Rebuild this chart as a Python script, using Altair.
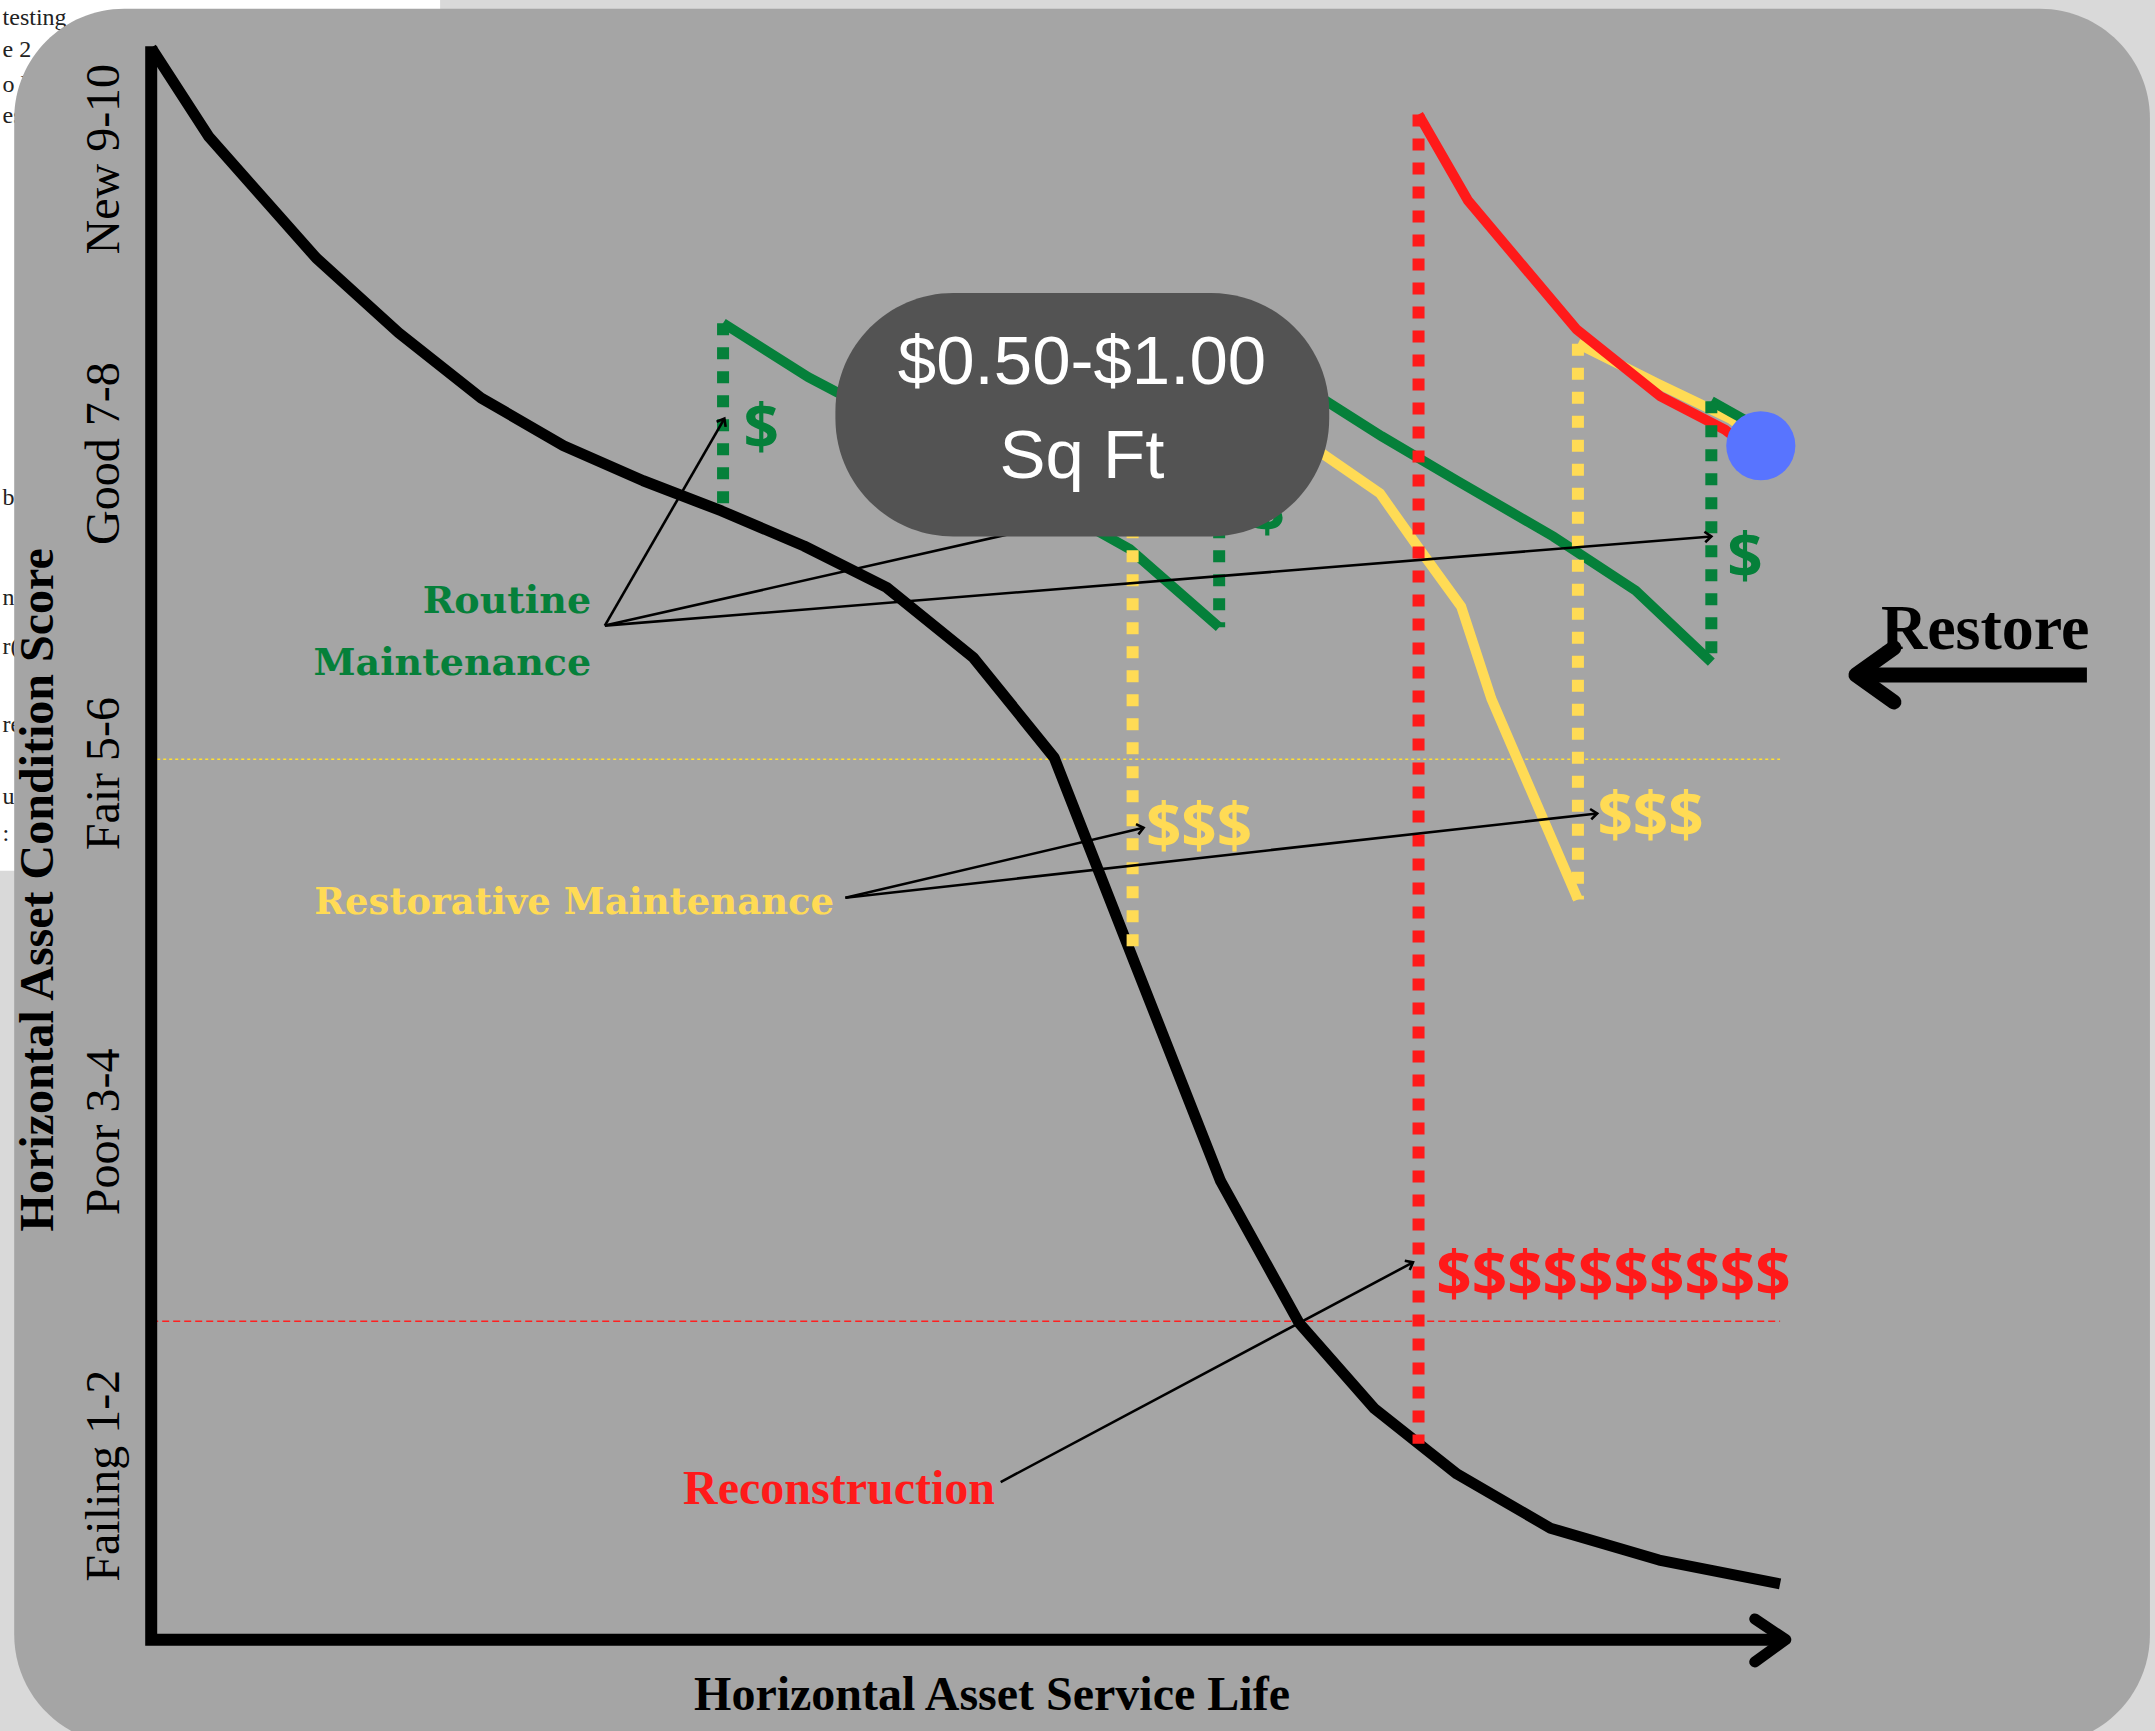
import math
import altair as alt
import pandas as pd

# ---------------------------------------------------------------
# Data  (x = share of horizontal asset service life, y = condition score)
# ---------------------------------------------------------------
curve_life = [0.0, 3.54, 10.10, 15.15, 20.20, 25.25, 30.13, 34.93, 39.98, 45.03,
              50.34, 55.30, 60.19, 65.49, 70.29, 74.92, 79.97, 85.69, 92.34, 99.75]
curve_score = [10.0, 9.44, 8.68, 8.21, 7.80, 7.50, 7.28, 7.09, 6.87, 6.61,
               6.17, 5.54, 4.26, 2.88, 1.99, 1.45, 1.04, 0.70, 0.50, 0.35]

# routine maintenance (green): renewed segments
routine_seg = [1, 1, 1, 1, 1, 2, 2, 2, 2, 2, 2, 2]
routine_life = [35.02, 40.24, 54.71, 59.93, 65.40, 65.40, 71.97, 75.34, 79.97, 85.86, 90.91, 95.54]
routine_score = [8.27, 7.93, 7.15, 6.85, 6.36, 8.20, 7.78, 7.56, 7.28, 6.93, 6.59, 6.14]
routine_last_life = [95.54, 97.64]
routine_last_score = [7.78, 7.66]
routine_jump_life = [35.02, 65.40, 95.54]
routine_jump_from = [7.09, 6.36, 6.14]
routine_jump_to = [8.27, 8.20, 7.78]

# restorative maintenance (yellow)
restore_seg = [1, 1, 1, 1, 1, 1, 1, 2, 2, 2, 2]
restore_life = [60.10, 71.72, 75.25, 77.53, 80.22, 82.07, 87.37, 87.37, 92.26, 96.72, 97.64]
restore_score = [8.05, 7.45, 7.20, 6.87, 6.49, 5.91, 4.65, 8.14, 7.89, 7.67, 7.60]
restore_jump_life = [60.10, 87.37]
restore_jump_from = [4.30, 4.65]
restore_jump_to = [8.05, 8.14]

# reconstruction (red)
recon_life = [77.61, 80.64, 87.29, 92.42, 96.38, 97.64]
recon_score = [9.58, 9.04, 8.23, 7.81, 7.60, 7.50]
recon_jump_life = [77.61]
recon_jump_from = [1.23]
recon_jump_to = [9.58]

end_life = [98.57]
end_score = [7.50]

fair_threshold = [5.53]
failing_threshold = [2.00]
threshold_span = [0.0, 99.75]

# axes drawn as paths
axis_life = [0.0, 0.0, 100.0]
axis_score = [10.01, 0.0, 0.0]
axis_head_life = [98.2, 100.1, 98.2]
axis_head_score = [0.13, 0.0, -0.14]

# "Restore" arrow
restore_arrow_life = [104.40, 118.54]
restore_arrow_score = [6.06, 6.06]
restore_head_life = [106.72, 104.40, 106.72]
restore_head_score = [6.23, 6.06, 5.89]

# annotation arrows
ann_from_life = [27.78, 27.78, 27.78, 42.51, 42.51, 52.02]
ann_from_score = [6.37, 6.37, 6.37, 4.66, 4.66, 0.99]
ann_to_life = [35.10, 64.81, 95.54, 60.77, 88.55, 77.27]
ann_to_score = [7.67, 7.23, 6.93, 5.10, 5.19, 2.37]

# texts
tick_labels = ["New 9-10", "Good 7-8", "Fair 5-6", "Poor 3-4", "Failing 1-2"]
tick_score = [9.30, 7.45, 5.44, 3.19, 1.03]
y_title = ["Horizontal Asset Condition Score"]
x_title = ["Horizontal Asset Service Life"]
routine_text = ["Routine", "Maintenance"]
routine_text_score = [6.45, 6.06]
restorative_text = ["Restorative Maintenance"]
recon_text = ["Reconstruction"]
restore_word = ["Restore"]

green_money = ["$", "$", "$"]
green_money_life = [37.35, 68.34, 97.60]
green_money_score = [7.48, 6.96, 6.67]
yellow_money = ["$$$", "$$$"]
yellow_money_life = [64.17, 91.82]
yellow_money_score = [4.97, 5.04]
red_money = ["$$$$$$$$$$"]
red_money_life = [89.55]
red_money_score = [2.16]

price_text = ["$0.50-$1.00", "Sq Ft"]
price_score = [7.89, 7.30]
bubble_life = [41.90, 72.14]
bubble_score = [6.93, 8.46]

panel_life = [-8.39, 122.4]
panel_score = [-0.659, 10.245]
paper_life = [-10.0, 17.69]
paper_score = [4.83, 11.0]
paper_words = ["testing", "e 2", "o l", "es", "b", "nt", "r(", "re", "u", ":"]
paper_score_pos = [10.14, 9.94, 9.72, 9.53, 7.13, 6.50, 6.19, 5.70, 5.25, 5.02]

# ---------------------------------------------------------------
W, H = 2155, 1731
X_DOM = [-9.26, 122.71]
Y_DOM = [-0.574, 10.30]
PX_X = W / (X_DOM[1] - X_DOM[0])
PX_Y = H / (Y_DOM[1] - Y_DOM[0])

xs = alt.Scale(domain=X_DOM, nice=False, zero=False)
ys = alt.Scale(domain=Y_DOM, nice=False, zero=False)

GREEN = "#05803a"
YELLOW = "#ffdb55"
RED = "#ff1a1a"
BLUE = "#5874ff"
SERIF = "Liberation Serif"
SLAB = "DejaVu Serif"


def X(f="life"):
    return alt.X(f"{f}:Q", scale=xs, axis=None)


def Y(f="score"):
    return alt.Y(f"{f}:Q", scale=ys, axis=None)


def path_layer(life, score, color, width, seg=None, cap="butt", join="miter"):
    df = pd.DataFrame({"life": life, "score": score, "i": list(range(len(life))),
                       "seg": seg if seg is not None else [0] * len(life)})
    return alt.Chart(df).mark_line(color=color, strokeWidth=width, strokeCap=cap,
                                   strokeJoin=join).encode(
        x=X(), y=Y(), order=alt.Order("i:Q"), detail="seg:N")


def drop_layer(life, lo, hi, color):
    df = pd.DataFrame({"life": life, "lo": lo, "hi": hi})
    return alt.Chart(df).mark_rule(color=color, strokeWidth=12, strokeDash=[12, 12],
                                   strokeCap="butt").encode(
        x=X(), y=Y("hi"), y2=alt.Y2("lo:Q"))


def rect_layer(lifes, scores, color, radius):
    df = pd.DataFrame({"x0": [lifes[0]], "x1": [lifes[1]], "y0": [scores[0]], "y1": [scores[1]]})
    return alt.Chart(df).mark_rect(color=color, cornerRadius=radius).encode(
        x=X("x0"), x2=alt.X2("x1:Q"), y=Y("y0"), y2=alt.Y2("y1:Q"))


def text_layer(labels, life, score, **mark):
    n = len(labels)
    if not isinstance(life, list):
        life = [life] * n
    if not isinstance(score, list):
        score = [score] * n
    df = pd.DataFrame({"label": labels, "life": life, "score": score})
    return alt.Chart(df).mark_text(**mark).encode(x=X(), y=Y(), text="label:N")


layers = []

# paper behind the panel
layers.append(rect_layer(paper_life, paper_score, "#ffffff", 0))
layers.append(text_layer(paper_words, -9.10, paper_score_pos, font=SERIF, fontSize=24,
                         align="left", baseline="alphabetic", color="#222222"))
# gray panel
layers.append(rect_layer(panel_life, panel_score, "#a5a5a5", 110))

# thresholds
th1 = pd.DataFrame({"a": [threshold_span[0]], "b": [threshold_span[1]], "score": fair_threshold})
layers.append(alt.Chart(th1).mark_rule(color="#ffe033", strokeWidth=1.6, strokeDash=[3, 3]).encode(
    x=X("a"), x2=alt.X2("b:Q"), y=Y()))
th2 = pd.DataFrame({"a": [threshold_span[0]], "b": [threshold_span[1]], "score": failing_threshold})
layers.append(alt.Chart(th2).mark_rule(color="#ff2020", strokeWidth=1.6, strokeDash=[7, 4]).encode(
    x=X("a"), x2=alt.X2("b:Q"), y=Y()))

# deterioration curve and axes
layers.append(path_layer(curve_life, curve_score, "black", 11, join="bevel"))
layers.append(path_layer(axis_life, axis_score, "black", 12))
layers.append(path_layer(axis_head_life, axis_head_score, "black", 11, cap="round", join="round"))

# treatment lines
layers.append(path_layer(routine_life, routine_score, GREEN, 10, seg=routine_seg))
layers.append(path_layer(restore_life, restore_score, YELLOW, 10, seg=restore_seg))
layers.append(path_layer(recon_life, recon_score, RED, 10))
layers.append(path_layer(routine_last_life, routine_last_score, GREEN, 10))

# vertical treatment jumps (dotted)
layers.append(drop_layer(routine_jump_life, routine_jump_from, routine_jump_to, GREEN))
layers.append(drop_layer(restore_jump_life, restore_jump_from, restore_jump_to, YELLOW))
layers.append(drop_layer(recon_jump_life, recon_jump_from, recon_jump_to, RED))

# annotation arrows
ann = pd.DataFrame({"life": ann_from_life, "score": ann_from_score,
                    "life2": ann_to_life, "score2": ann_to_score})
ann["ang"] = [
    math.degrees(math.atan2(-(s2 - s1) * PX_Y, (l2 - l1) * PX_X)) % 360
    for l1, s1, l2, s2 in zip(ann_from_life, ann_from_score, ann_to_life, ann_to_score)
]
layers.append(alt.Chart(ann).mark_rule(color="black", strokeWidth=2.6).encode(
    x=X(), y=Y(), x2=alt.X2("life2:Q"), y2=alt.Y2("score2:Q")))
layers.append(alt.Chart(ann).mark_point(shape="M-1,-0.8L0,0L-1,0.8", filled=False, size=170,
                                        strokeWidth=2.6, color="black", opacity=1).encode(
    x=X("life2"), y=Y("score2"), angle=alt.Angle("ang:Q", scale=None)))

# money labels
layers.append(text_layer(green_money, green_money_life, green_money_score, font="Open Sans",
                         fontWeight="bold", fontSize=62, color=GREEN, align="center",
                         baseline="alphabetic"))
layers.append(text_layer(yellow_money, yellow_money_life, yellow_money_score, font="Open Sans",
                         fontWeight="bold", fontSize=62, color=YELLOW, align="center",
                         baseline="alphabetic"))
layers.append(text_layer(red_money, red_money_life, red_money_score, font="Open Sans",
                         fontWeight="bold", fontSize=62, color=RED, align="center",
                         baseline="alphabetic"))

# treatment names
layers.append(text_layer(routine_text, 26.94, routine_text_score, font=SLAB, fontWeight="bold",
                         fontSize=38, color=GREEN, align="right", baseline="alphabetic"))
layers.append(text_layer(restorative_text, 41.82, 4.56, font=SLAB, fontWeight="bold",
                         fontSize=37, color=YELLOW, align="right", baseline="alphabetic"))
layers.append(text_layer(recon_text, 51.67, 0.855, font=SERIF, fontWeight="bold",
                         fontSize=48, color=RED, align="right", baseline="alphabetic"))

# axis texts
layers.append(text_layer(tick_labels, -1.96, tick_score, font=SERIF, fontSize=48, angle=270,
                         color="black", align="center", baseline="alphabetic"))
layers.append(text_layer(y_title, -6.01, 4.71, font=SERIF, fontWeight="bold", fontSize=48,
                         angle=270, color="black", align="center", baseline="alphabetic"))
layers.append(text_layer(x_title, 51.49, -0.44, font=SERIF, fontWeight="bold", fontSize=48,
                         color="black", align="center", baseline="alphabetic"))

# Restore
layers.append(text_layer(restore_word, 105.93, 6.22, font=SERIF, fontWeight="bold", fontSize=64,
                         color="black", align="left", baseline="alphabetic"))
layers.append(path_layer(restore_arrow_life, restore_arrow_score, "black", 15))
layers.append(path_layer(restore_head_life, restore_head_score, "black", 15, cap="round",
                         join="round"))

# price bubble
layers.append(rect_layer(bubble_life, bubble_score, "#535353", 118))
layers.append(text_layer(price_text, 57.0, price_score, font="Liberation Sans", fontSize=69,
                         color="white", align="center", baseline="alphabetic"))

# end point
endp = pd.DataFrame({"life": end_life, "score": end_score})
layers.append(alt.Chart(endp).mark_circle(size=4780, color=BLUE, opacity=1).encode(x=X(), y=Y()))

chart = alt.layer(*layers).properties(
    width=W, height=H, padding=0,
    autosize=alt.AutoSizeParams(type="none"),
    background="#d9d9d9",
).configure_view(strokeWidth=0)

chart.save("out.html", embed_options={"renderer": "svg", "actions": False})
